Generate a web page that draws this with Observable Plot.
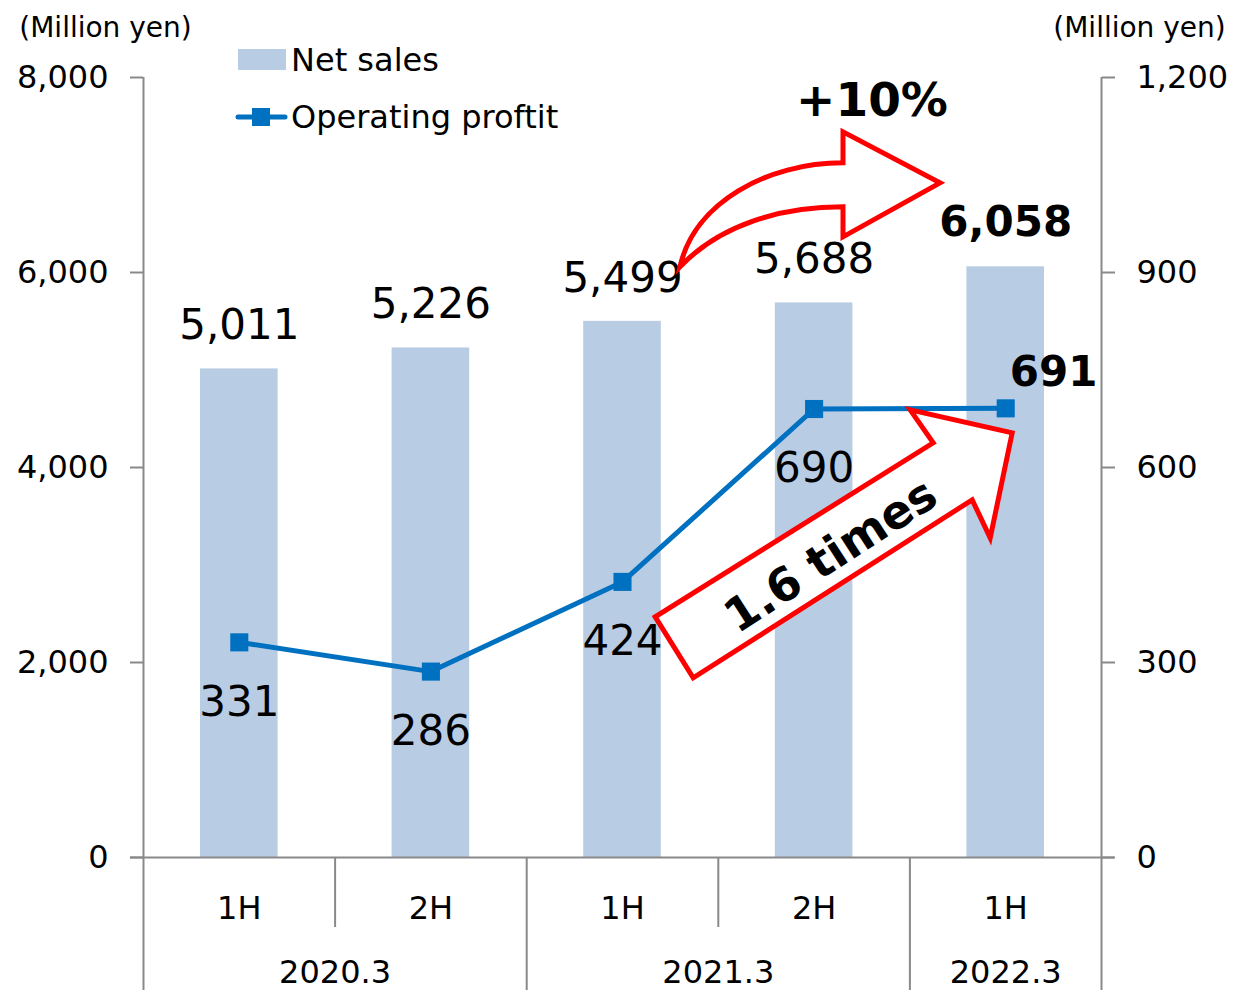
<!DOCTYPE html>
<html>
<head>
<meta charset="utf-8">
<script src="https://cdn.jsdelivr.net/npm/d3@7"></script>
<script src="https://cdn.jsdelivr.net/npm/@observablehq/plot@0.6"></script>
<style>
  html, body { margin: 0; padding: 0; background: #fff; }
  #wrap { position: relative; width: 1236px; height: 990px; overflow: hidden; font-family: "DejaVu Sans", Verdana, sans-serif; }
  #legend { position: absolute; left: 0; top: 0; pointer-events: none; }
</style>
</head>
<body>
<div id="wrap"></div>
<script>
// ---- data ----
const periods = ["1H", "2H", "1H", "2H", "1H"];
const fiscalYears = ["2020.3", "2020.3", "2021.3", "2021.3", "2022.3"];
const netSales = [5011, 5226, 5499, 5688, 6058];
const operatingProfit = [331, 286, 424, 690, 691];
const leftTicks = [0, 2000, 4000, 6000, 8000];
const rightTicks = [0, 300, 600, 900, 1200];
const unitLabel = "(Million yen)";
const seriesNames = ["Net sales", "Operating proftit"];
const salesGrowthText = "+10%";
const profitGrowthText = "1.6 times";

// ---- derived ----
const leftMax = 8000, rightMax = 1200;
const ratio = leftMax / rightMax;
const table = netSales.map((s, i) => ({
  i, period: periods[i], fy: fiscalYears[i], sales: s, op: operatingProfit[i], opScaled: operatingProfit[i] * ratio
}));
const last = table.length - 1;
const years = d3.groups(table, d => d.fy).map(([fy, items]) => ({ fy, center: d3.mean(items, d => d.i) }));
const innerSeps = table.slice(0, -1).filter((d, k) => d.fy === table[k + 1].fy).map(d => d.i + 0.5);
const yearSeps = table.slice(0, -1).filter((d, k) => d.fy !== table[k + 1].fy).map(d => d.i + 0.5);
const outerEdges = [-0.5, last + 0.5];

const FONT = "DejaVu Sans, Verdana, sans-serif";
const GRAY = "#898989";
const BAR = "#B8CCE4";
const LINE = "#0070C0";
const fmt = d3.format(",");

const W = 1236, H = 990;
const mTop = 77, mBottom = 133, mLeft = 143, mRight = 135;
const plotH = H - mTop - mBottom;

const chart = Plot.plot({
  width: W, height: H,
  marginTop: mTop, marginBottom: mBottom, marginLeft: mLeft, marginRight: mRight,
  style: { fontFamily: FONT, color: "#000", background: "#fff", overflow: "visible" },
  x: { type: "linear", domain: [-0.5, last + 0.5], axis: null },
  y: { domain: [0, leftMax], axis: null },
  marks: [
    Plot.rectY(table, { x1: d => d.i - 0.5, x2: d => d.i + 0.5, y1: 0, y2: "sales", fill: BAR, insetLeft: 57, insetRight: 57 }),
    // category axis structure
    Plot.ruleY([0], { stroke: GRAY, strokeWidth: 2, insetLeft: -13, insetRight: -13 }),
    Plot.ruleX(outerEdges, { stroke: GRAY, strokeWidth: 2, insetBottom: -mBottom }),
    Plot.ruleX(yearSeps, { stroke: GRAY, strokeWidth: 2, insetTop: plotH, insetBottom: -mBottom }),
    Plot.ruleX(innerSeps, { stroke: GRAY, strokeWidth: 2, insetTop: plotH, insetBottom: -70 }),
    Plot.text(table, { x: "i", frameAnchor: "bottom", lineAnchor: "middle", text: "period", dy: 51, fontSize: 32 }),
    Plot.text(years, { x: "center", frameAnchor: "bottom", lineAnchor: "middle", text: "fy", dy: 115, fontSize: 32 }),
    // value axes
    Plot.axisY(leftTicks, { anchor: "left", tickSize: 13, tickPadding: 22, tickFormat: fmt, stroke: GRAY, strokeWidth: 2, fontSize: 32, label: null, fill: "#000" }),
    Plot.axisY(rightTicks.map(v => v * ratio), { anchor: "right", tickSize: 13, tickPadding: 22, tickFormat: d => fmt(Math.round(d / ratio)), stroke: GRAY, strokeWidth: 2, fontSize: 32, label: null, fill: "#000" }),
    Plot.text([unitLabel], { frameAnchor: "top-left", textAnchor: "middle", lineAnchor: "middle", dx: -38, dy: -49, fontSize: 28 }),
    Plot.text([unitLabel], { frameAnchor: "top-right", textAnchor: "middle", lineAnchor: "middle", dx: 38, dy: -49, fontSize: 28 }),
    // operating profit line
    Plot.line(table, { x: "i", y: "opScaled", stroke: LINE, strokeWidth: 5 }),
    Plot.dot(table, { x: "i", y: "opScaled", symbol: "square", r: 10.2, fill: LINE, stroke: null }),
    // labels
    Plot.text(table.slice(0, last), { x: "i", y: "sales", text: d => fmt(d.sales), dy: -43, fontSize: 42 }),
    Plot.text(table.slice(last), { x: "i", y: "sales", text: d => fmt(d.sales), dy: -44, fontSize: 42, fontWeight: "bold" }),
    Plot.text(table.slice(0, last), { x: "i", y: "opScaled", text: d => fmt(d.op), dy: 60, fontSize: 42 }),
    Plot.text(table.slice(last), { x: "i", y: "opScaled", text: d => fmt(d.op), dx: 48, dy: -36, fontSize: 42, fontWeight: "bold" })
  ]
});

document.getElementById("wrap").appendChild(chart);

// ---- annotations anchored through the chart's scales ----
function scaleFn(name) {
  const s = chart.scale(name);
  if (s && typeof s.apply === "function") return v => s.apply(v);
  return d3.scaleLinear(s.domain, s.range);
}
const sx = scaleFn("x"), sy = scaleFn("y");
const svg = d3.select(chart);
const ann = svg.append("g");

// curved arrow from the 2021.3 1H sales label
const a = [sx(2), sy(netSales[2])];
const P = (dx, dy) => `${a[0] + dx},${a[1] + dy}`;
ann.append("path")
  .attr("d", `M${P(58,-54)} C${P(72,-118)} ${P(145,-158)} ${P(221,-158)} L${P(221,-189)} L${P(318,-138)} L${P(221,-84)} L${P(221,-114)} C${P(158,-114)} ${P(98,-96)} ${P(58,-54)} Z`)
  .attr("fill", "#fff").attr("stroke", "#FF0000").attr("stroke-width", 5).attr("stroke-linejoin", "miter");
ann.append("text").attr("x", a[0] + 250).attr("y", a[1] - 221).attr("dy", "0.35em")
  .attr("text-anchor", "middle").attr("font-size", 47).attr("font-weight", "bold").attr("font-family", FONT)
  .text(salesGrowthText);

// straight arrow pointing at the latest operating profit
const b = [sx(last), sy(operatingProfit[last] * ratio)];
const Q = (dx, dy) => [b[0] + dx, b[1] + dy];
const pts = [Q(-350,209), Q(-312,270), Q(-33,92), Q(-15,130), Q(7,25), Q(-95,2), Q(-72,35)];
ann.append("polygon").attr("points", pts.map(p => p.join(",")).join(" "))
  .attr("fill", "#fff").attr("stroke", "#FF0000").attr("stroke-width", 5).attr("stroke-linejoin", "miter");
const tc = Q(-175, 147);
ann.append("text").attr("transform", `translate(${tc[0]},${tc[1]}) rotate(-33)`)
  .attr("dy", "0.35em").attr("text-anchor", "middle").attr("font-size", 46).attr("font-weight", "bold").attr("font-family", FONT)
  .text(profitGrowthText);

// ---- legend (overlay) ----
const lg = d3.select("#wrap").append("svg").attr("id", "legend").attr("width", W).attr("height", 160)
  .style("font-family", FONT);
lg.append("rect").attr("x", 238).attr("y", 49).attr("width", 48).attr("height", 21).attr("fill", BAR);
lg.append("text").attr("x", 291).attr("y", 60).attr("dy", "0.35em").attr("font-size", 32).text(seriesNames[0]);
lg.append("line").attr("x1", 238).attr("x2", 285).attr("y1", 117).attr("y2", 117)
  .attr("stroke", LINE).attr("stroke-width", 5).attr("stroke-linecap", "round");
lg.append("rect").attr("x", 252).attr("y", 108).attr("width", 18).attr("height", 18).attr("fill", LINE);
lg.append("text").attr("x", 291).attr("y", 117).attr("dy", "0.35em").attr("font-size", 32).text(seriesNames[1]);
</script>
</body>
</html>
